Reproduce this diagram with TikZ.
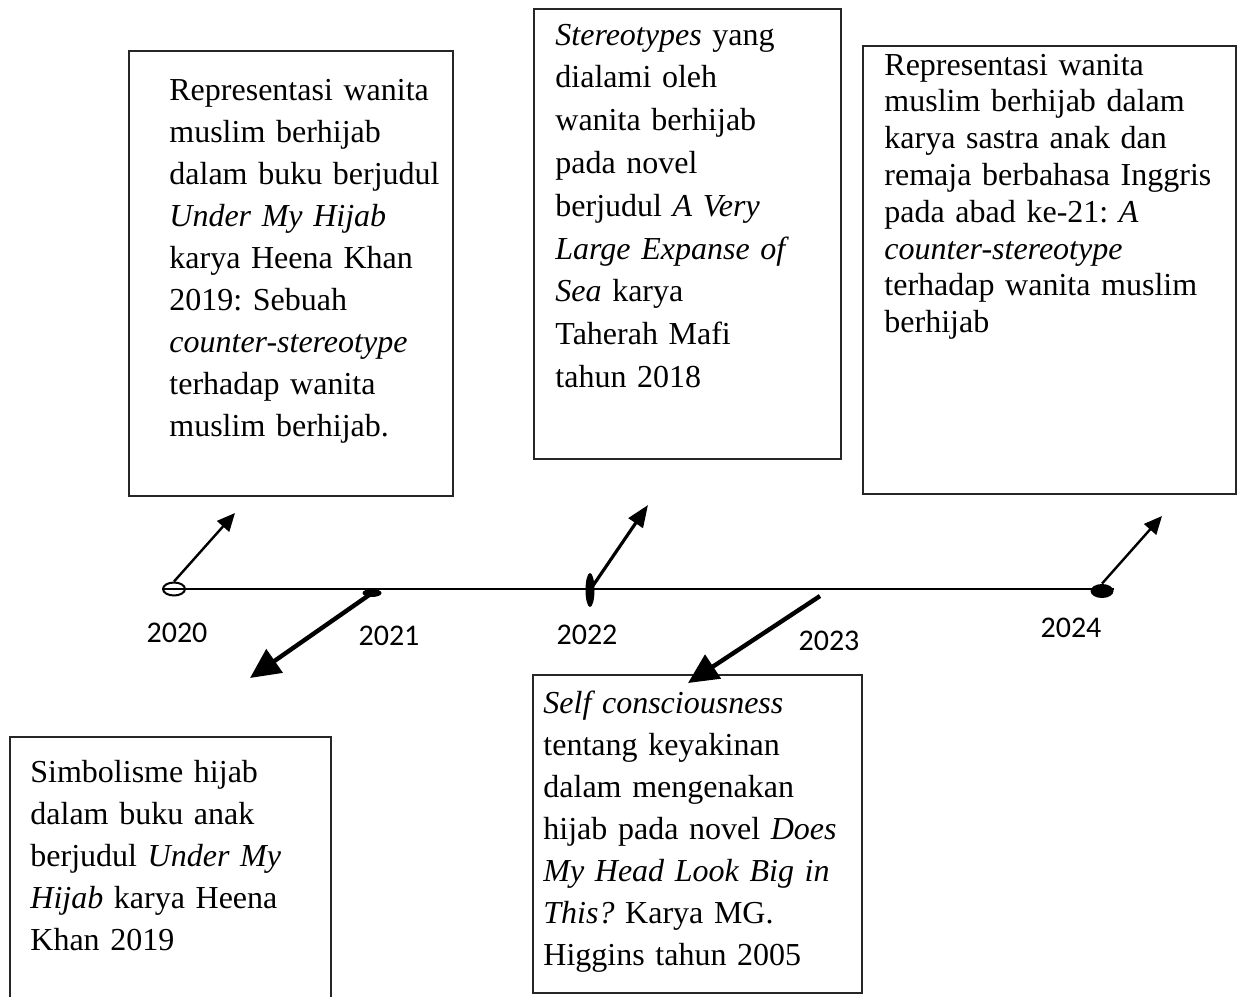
\documentclass[tikz,border=0pt]{standalone}
\usepackage{fontspec}
\setmainfont{Liberation Serif}
\newfontfamily\yearfont{Carlito}
\frenchspacing
\usetikzlibrary{arrows.meta, shapes.geometric}
\tikzset{box/.style={draw=black!85, line width=0.8pt},
	boxtext/.style={anchor=base west, inner sep=0pt, text width=180pt, align=left,
		font=\fontsize{16}{21}\selectfont},
	year/.style={anchor=base, font=\yearfont\fontsize{15}{18}\selectfont},
	dot/.style={ellipse, fill=black, inner sep=0pt},
	opendot/.style={ellipse, draw, fill=white, line width=1pt, inner sep=0pt},
	thinarrow/.style={-{Triangle[length=9pt, width=8pt]}, line width=1.2pt},
	midarrow/.style={-{Triangle[length=11pt, width=8.5pt]}, line width=1.6pt},
	thickarrow/.style={-{Triangle[length=15pt, width=14pt]}, line width=2.2pt}}

\begin{document}
\begin{tikzpicture}[x=0.5pt, y=-0.5pt]
    \useasboundingbox (0,0) rectangle (1241,996);

    % boxes
    \draw[box] (129,51) rectangle (453,496);
    \draw[box] (534,9) rectangle (841,459);
    \draw[box] (863,46) rectangle (1236,494);
    \draw[box] (10,737) rectangle (331,1010);
    \draw[box] (533,675) rectangle (862,993);

    \node[boxtext] (t1) at (169,100) {Representasi wanita\\ muslim berhijab\\ dalam buku berjudul\\
        \textit{Under My Hijab}\\ karya Heena Khan\\ 2019: Sebuah\\ \textit{counter-stereotype}\\
        terhadap wanita\\ muslim berhijab.};
    \node[boxtext, font=\fontsize{16}{21.4}\selectfont] (t2) at (555,45) {\textit{Stereotypes} yang\\
        dialami oleh\\ wanita berhijab\\ pada novel\\ berjudul \textit{A Very}\\
        \textit{Large Expanse of}\\ \textit{Sea} karya\\ Taherah Mafi\\ tahun 2018};
    \node[boxtext, font=\fontsize{16}{18.4}\selectfont] (t3) at (884,75) {Representasi wanita\\
        muslim berhijab dalam\\ karya sastra anak dan\\ remaja berbahasa Inggris\\
        pada abad ke-21: \textit{A}\\ \textit{counter-stereotype}\\ terhadap wanita muslim\\ berhijab};
    \node[boxtext] (t4) at (30,782) {Simbolisme hijab\\ dalam buku anak\\ berjudul \textit{Under My}\\
        \textit{Hijab} karya Heena\\ Khan 2019};
    \node[boxtext] (t5) at (543,713) {\textit{Self consciousness}\\ tentang keyakinan\\
        dalam mengenakan\\ hijab pada novel \textit{Does}\\ \textit{My Head Look Big in}\\
        \textit{This?} Karya MG.\\ Higgins tahun 2005};

    % timeline
    \node[opendot, minimum width=11pt, minimum height=6.5pt] (m2020) at (174,589) {};
    \node[dot, minimum width=9.5pt, minimum height=4pt] (m2021) at (372,593) {};
    \node[dot, minimum width=4.5pt, minimum height=17pt] (m2022) at (590,590) {};
    \coordinate (m2023) at (820,596);
    \node[dot, minimum width=11.5pt, minimum height=7pt] (m2024) at (1102,591) {};
    \draw[line width=0.75pt] (m2020.west) -- (m2020.west -| m2024.east);

    \node[year] (y2020) at (177,642) {2020};
    \node[year] (y2021) at (389,645) {2021};
    \node[year] (y2022) at (587,644) {2022};
    \node[year] (y2023) at (829,650) {2023};
    \node[year] (y2024) at (1071,637) {2024};

    % arrows
    \coordinate (e2020) at (235,513);
    \coordinate (e2021) at (250,678);
    \coordinate (e2022) at (648,505);
    \coordinate (e2023) at (688,683);
    \coordinate (e2024) at (1162,516);
    \draw[thinarrow] (m2020.north) -- (e2020);
    \draw[thickarrow] (m2021.center) -- (e2021);
    \draw[midarrow] (m2022.center) -- (e2022);
    \draw[thickarrow] (m2023) -- (e2023);
    \draw[thinarrow] (m2024.north) -- (e2024);
\end{tikzpicture}
\end{document}
